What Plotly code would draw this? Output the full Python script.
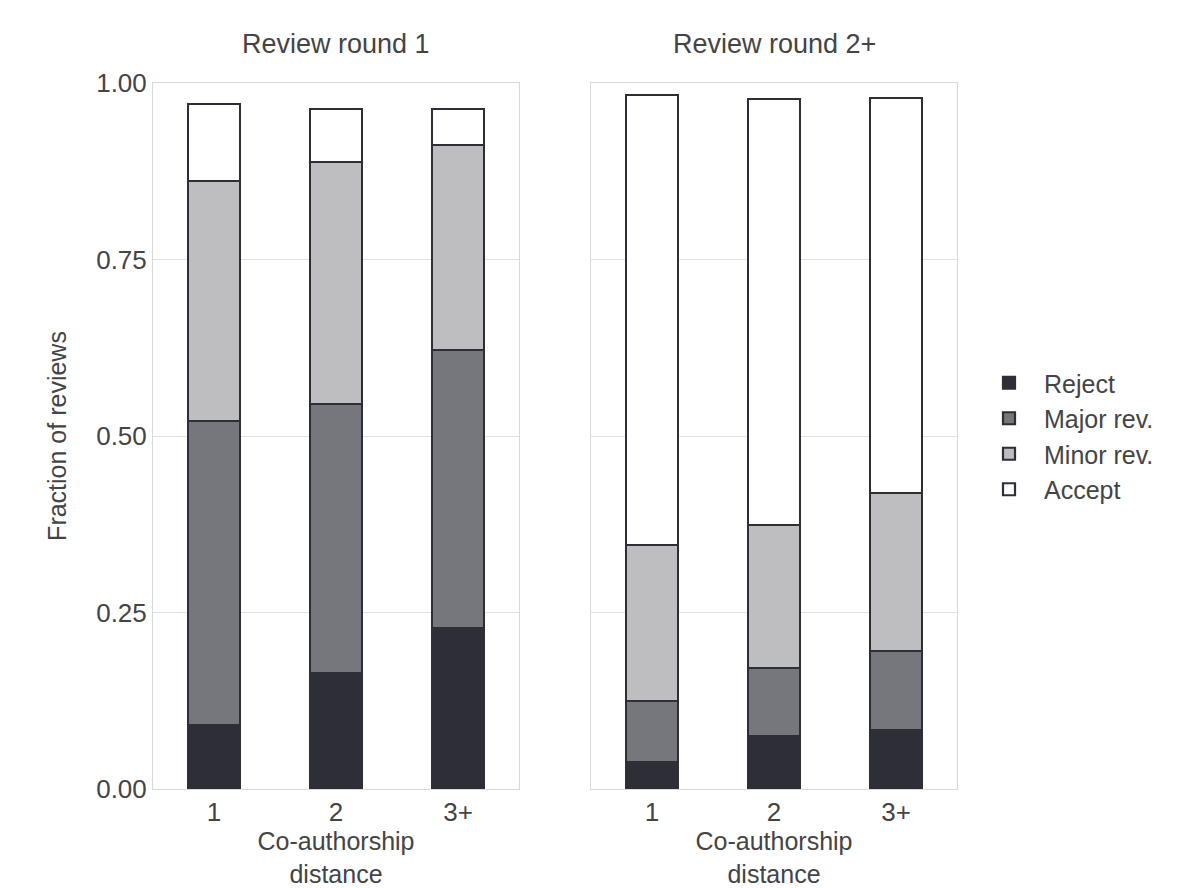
import plotly.graph_objects as go

categories = ["1", "2", "3+"]
r1_reject = [0.091, 0.164, 0.228]
r1_major = [0.430, 0.381, 0.394]
r1_minor = [0.340, 0.343, 0.290]
r1_accept = [0.109, 0.075, 0.051]
r2_reject = [0.038, 0.075, 0.084]
r2_major = [0.087, 0.096, 0.111]
r2_minor = [0.221, 0.203, 0.224]
r2_accept = [0.637, 0.603, 0.560]

names = ["Reject", "Major rev.", "Minor rev.", "Accept"]
colors = ["#2e2e36", "#76777c", "#bebec0", "#ffffff"]
edge = "#2e2e36"

fig = go.Figure()
for panel, (xa, ya, series) in enumerate([
    ("x", "y", [r1_reject, r1_major, r1_minor, r1_accept]),
    ("x2", "y2", [r2_reject, r2_major, r2_minor, r2_accept])]):
    for name, col, vals in zip(names, colors, series):
        fig.add_trace(go.Bar(x=categories, y=vals, name=name, marker_color=col,
                             marker_line=dict(color=edge, width=2.2), width=0.43,
                             xaxis=xa, yaxis=ya, showlegend=(panel == 0),
                             legendgroup=name))

axis_common = dict(showline=True, mirror=True, linecolor="#d9d9d9", linewidth=1,
                   ticks="", tickfont=dict(size=26, color="#444444"), automargin=False)
fig.update_layout(
    barmode="stack", width=1200, height=888, plot_bgcolor="white", paper_bgcolor="white",
    font=dict(family="Liberation Sans, Arial", color="#444444"),
    margin=dict(l=0, r=0, t=75, b=107, autoexpand=False),
    xaxis=dict(domain=[145/1200, 511/1200], anchor="y",
               title=dict(text="Co-authorship<br>distance", font=dict(size=25), standoff=4),
               **axis_common),
    xaxis2=dict(domain=[583/1200, 949/1200], anchor="y2",
                title=dict(text="Co-authorship<br>distance", font=dict(size=25), standoff=4),
                **axis_common),
    yaxis=dict(range=[0, 1], tickvals=[0, 0.25, 0.5, 0.75, 1.0],
               ticktext=["0.00", "0.25", "0.50", "0.75", "1.00"], gridcolor="#e0e0e0",
               zeroline=False, title=dict(text="Fraction of reviews", font=dict(size=25), standoff=22),
               **axis_common),
    yaxis2=dict(range=[0, 1], tickvals=[0, 0.25, 0.5, 0.75, 1.0], showticklabels=False,
                gridcolor="#e0e0e0", zeroline=False, anchor="x2", **axis_common),
    legend=dict(x=0.805, y=0.5, yanchor="middle", traceorder="normal",
                font=dict(size=25, color="#444444"), itemwidth=60),
    annotations=[
        dict(text="Review round 1", x=328/1200, xanchor="center", y=1.0, yanchor="bottom",
             yshift=22, xref="paper", yref="paper",
             showarrow=False, font=dict(size=27, color="#444444")),
        dict(text="Review round 2+", x=766/1200, xanchor="center", y=1.0, yanchor="bottom",
             yshift=22, xref="paper", yref="paper",
             showarrow=False, font=dict(size=27, color="#444444")),
    ],
)
fig.write_html("out.html")
